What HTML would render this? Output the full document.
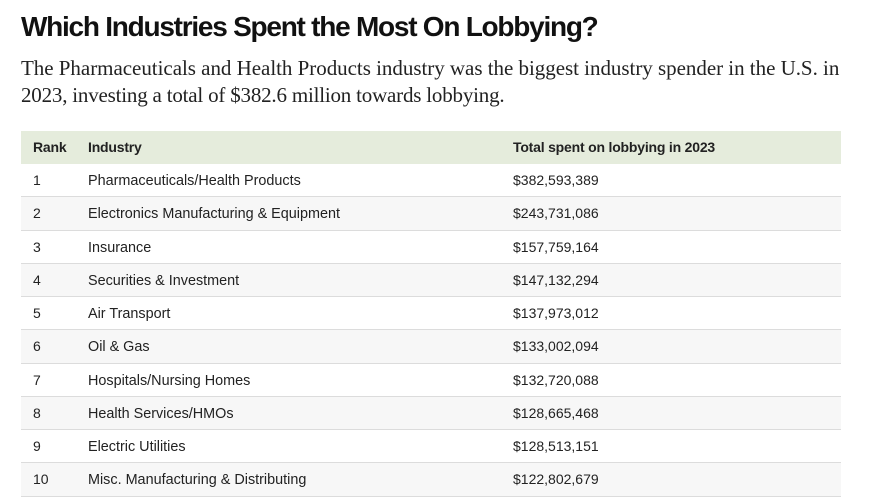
<!DOCTYPE html>
<html>
<head>
<meta charset="utf-8">
<style>
  html,body{margin:0;padding:0;background:#fff;}
  body{width:894px;height:502px;position:relative;overflow:hidden;}
  .title{position:absolute;left:21px;top:13px;font-family:"Liberation Sans",sans-serif;font-weight:bold;font-size:28px;line-height:28px;letter-spacing:-1.25px;color:#111;white-space:nowrap;}
  .sub{position:absolute;left:21px;top:55px;font-family:"Liberation Serif",serif;font-size:21px;line-height:27px;color:#222;white-space:nowrap;letter-spacing:-0.03px;}
  .sub .l2{letter-spacing:-0.2px;}
  .row{position:absolute;left:21px;width:820px;height:33.27px;box-sizing:border-box;border-bottom:1px solid #dcdcdc;font-family:"Liberation Sans",sans-serif;font-size:14px;color:#222;}
  .row span{position:absolute;top:0;display:block;line-height:32.5px;height:32.5px;white-space:nowrap;}
  .c1{left:12px;} .c2{left:67px;font-size:14.4px;} .row span.c2{top:1px;} .c3{left:492px;}
  .hdr{top:131px;height:33px;background:#e5ecdc;border-bottom:none;font-weight:bold;}
  .hdr span{font-size:14px;letter-spacing:-0.2px;line-height:33px;height:33px;}
  .hdr span.c2{top:0;}
  .alt{background:#f7f7f7;}
</style>
</head>
<body>
<div class="title">Which Industries Spent the Most On Lobbying?</div>
<div class="sub">The Pharmaceuticals and Health Products industry was the biggest industry spender in the U.S. in<br><span class="l2">2023, investing a total of $382.6 million towards lobbying.</span></div>

<div class="row hdr"><span class="c1">Rank</span><span class="c2">Industry</span><span class="c3">Total spent on lobbying in 2023</span></div>
<div class="row" style="top:164px"><span class="c1">1</span><span class="c2">Pharmaceuticals/Health Products</span><span class="c3">$382,593,389</span></div>
<div class="row alt" style="top:197.27px"><span class="c1">2</span><span class="c2">Electronics Manufacturing &amp; Equipment</span><span class="c3">$243,731,086</span></div>
<div class="row" style="top:230.54px"><span class="c1">3</span><span class="c2">Insurance</span><span class="c3">$157,759,164</span></div>
<div class="row alt" style="top:263.81px"><span class="c1">4</span><span class="c2">Securities &amp; Investment</span><span class="c3">$147,132,294</span></div>
<div class="row" style="top:297.08px"><span class="c1">5</span><span class="c2">Air Transport</span><span class="c3">$137,973,012</span></div>
<div class="row alt" style="top:330.35px"><span class="c1">6</span><span class="c2">Oil &amp; Gas</span><span class="c3">$133,002,094</span></div>
<div class="row" style="top:363.62px"><span class="c1">7</span><span class="c2">Hospitals/Nursing Homes</span><span class="c3">$132,720,088</span></div>
<div class="row alt" style="top:396.89px"><span class="c1">8</span><span class="c2">Health Services/HMOs</span><span class="c3">$128,665,468</span></div>
<div class="row" style="top:430.16px"><span class="c1">9</span><span class="c2">Electric Utilities</span><span class="c3">$128,513,151</span></div>
<div class="row alt" style="top:463.43px"><span class="c1">10</span><span class="c2">Misc. Manufacturing &amp; Distributing</span><span class="c3">$122,802,679</span></div>
</body>
</html>
